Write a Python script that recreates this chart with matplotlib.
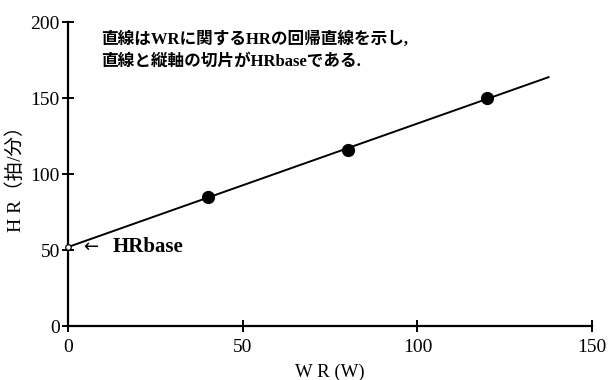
import numpy as np
import matplotlib
matplotlib.use("Agg")
import matplotlib.pyplot as plt

# Work rate (W) and heart rate (beats/min) at three load stages
wr = [40, 80, 120]
hr = [85, 116, 150]
x_ticks = [0, 50, 100, 150]
y_ticks = [0, 50, 100, 150, 200]
line_end = 137.5

slope, intercept = np.polyfit(wr, hr, 1)

serif = ["Liberation Serif", "Noto Sans CJK JP", "DejaVu Sans"]
jp = ["Liberation Serif", "Noto Sans CJK JP", "DejaVu Sans"]

fig = plt.figure(figsize=(6.08, 3.80), dpi=100)
ax = fig.add_axes([0.112, 0.142, 0.862, 0.800])

xs = np.array([0, line_end])
ax.plot(xs, intercept + slope * xs, color="black", lw=1.4, zorder=2)
ax.plot(wr, hr, "o", color="black", ms=8.5, zorder=3)
ax.plot([0], [intercept], "o", mfc="white", mec="black", ms=4, mew=0.9,
        zorder=4, clip_on=False)

ax.set_xlim(0, 150)
ax.set_ylim(0, 200)
ax.set_xticks(x_ticks)
ax.set_yticks(y_ticks)
for s in ("top", "right"):
    ax.spines[s].set_visible(False)
for s in ("left", "bottom"):
    ax.spines[s].set_linewidth(1.6)
ax.tick_params(direction="inout", length=8, width=1.4, labelsize=14)
ax.tick_params(axis="x", pad=5)
ax.tick_params(axis="y", pad=2)
for lab in ax.get_xticklabels() + ax.get_yticklabels():
    lab.set_family(serif)

ax.set_xlabel("W R (W)", fontsize=13.5, family=serif, labelpad=6)
ax.set_ylabel("H R（拍/分）", fontsize=14, family=jp, labelpad=4)

ax.text(4.2, intercept, "←", fontsize=13, family=["DejaVu Sans"],
        va="center", ha="left")
ax.text(12.8, intercept, "HRbase", fontsize=15, family=serif,
        fontweight="bold", va="center", ha="left")

ax.text(9.5, 194, "直線はWRに関するHRの回帰直線を示し,\n直線と縦軸の切片がHRbaseである.",
        fontsize=12, family=jp, fontweight="bold", va="top", ha="left",
        linespacing=1.55)

fig.savefig("out.png", dpi=100)
